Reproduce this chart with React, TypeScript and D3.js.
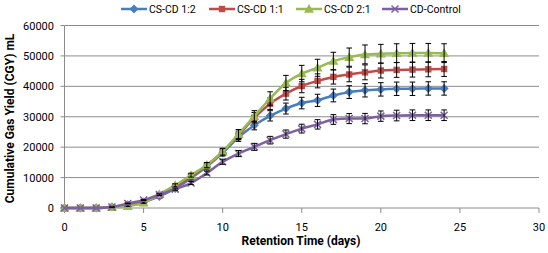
import React from "react";
import * as d3 from "d3";

const days = [0,1,2,3,4,5,6,7,8,9,10,11,12,13,14,15,16,17,18,19,20,21,22,23,24];

const cs12 = [0,0,0,300,1100,2000,3800,6400,9800,13600,18100,23200,27200,30300,32700,34500,35400,37000,38100,38700,39000,39200,39200,39300,39300];
const cs11 = [0,0,0,300,1000,2000,4200,7000,10400,14000,18500,23900,29700,34300,37600,40100,41800,43100,43900,44600,45200,45400,45500,45600,45700];
const cs21 = [0,0,0,250,600,1700,4500,7500,10800,14100,18500,24300,30200,36000,41100,44200,46100,48300,49600,50500,50700,50900,51000,51000,50900];
const ctrl = [0,0,0,300,1500,2600,4400,6200,8200,11500,15200,17900,20100,22300,24300,26100,27500,29100,29400,29400,30200,30400,30500,30500,30500];

const err12 = [0,0,0,50,100,150,250,400,550,750,1000,1300,1500,1700,1800,1900,2000,2100,2100,2200,2200,2200,2200,2200,2200];
const err11 = [0,0,0,50,100,150,250,450,650,850,1100,1400,1700,1900,2100,2200,2300,2350,2400,2450,2450,2450,2450,2450,2450];
const err21 = [0,0,0,50,100,150,300,450,650,850,1100,1500,1800,2200,2500,2700,2800,2900,3000,3100,3100,3100,3100,3100,3100];
const errC = [0,0,0,50,100,150,250,350,500,650,850,1000,1150,1250,1350,1450,1550,1600,1650,1700,1700,1750,1750,1750,1750];

const seriesNames = ["CS-CD 1:2", "CS-CD 1:1", "CS-CD 2:1", "CD-Control"];
const seriesColors = ["#4A7EBB", "#BE4B48", "#98B954", "#7D60A0"];
const seriesValues = [cs12, cs11, cs21, ctrl];
const seriesErrors = [err12, err11, err21, errC];
const markerKinds = ["diamond", "square", "triangle", "x"];

const xTicks = [0, 5, 10, 15, 20, 25, 30];
const yTicks = [0, 10000, 20000, 30000, 40000, 50000, 60000];

const W = 548, H = 253;
const left = 64.5, right = 539, top = 25.5, bottom = 208;
const font = "Roboto, 'Liberation Sans', sans-serif";

function Marker({ kind, x, y, color }: { kind: string; x: number; y: number; color: string }) {
  if (kind === "diamond") {
    const r = 4.5;
    return <path d={`M${x},${y - r}L${x + r},${y}L${x},${y + r}L${x - r},${y}Z`} fill={color} />;
  }
  if (kind === "square") {
    const r = 3.2;
    return <rect x={x - r} y={y - r} width={2 * r} height={2 * r} fill={color} />;
  }
  if (kind === "triangle") {
    const r = 5;
    return <path d={`M${x},${y - r}L${x + r},${y + r * 0.75}L${x - r},${y + r * 0.75}Z`} fill={color} />;
  }
  const r = 3.5;
  return (
    <path d={`M${x - r},${y - r}L${x + r},${y + r}M${x - r},${y + r}L${x + r},${y - r}`} stroke={color} strokeWidth={1.5} fill="none" />
  );
}

export default function App() {
  const x = d3.scaleLinear().domain([0, 30]).range([left, right]);
  const y = d3.scaleLinear().domain([0, 60000]).range([bottom, top]);
  const line = d3
    .line<number>()
    .x((_, i) => x(days[i]))
    .y((d) => y(d))
    .curve(d3.curveMonotoneX);

  const legendPos = [121, 209, 296, 382];

  return (
    <svg width={W} height={H} style={{ position: "absolute", left: 0, top: 0 }}>
      <rect width={W} height={H} fill="#fff" />
      {yTicks.map((t) => (
        <g key={t}>
          {t > 0 && <line x1={left} x2={right} y1={y(t)} y2={y(t)} stroke="#8C8C8C" strokeWidth={1} />}
          <line x1={left - 4} x2={left} y1={y(t)} y2={y(t)} stroke="#8C8C8C" />
          <text x={54} y={y(t) + 4} textAnchor="end" fontSize={11} fontFamily={font} fill="#000">
            {t}
          </text>
        </g>
      ))}
      <line x1={left} x2={left} y1={top} y2={bottom} stroke="#8C8C8C" />
      <line x1={left} x2={right} y1={bottom} y2={bottom} stroke="#8C8C8C" />
      {xTicks.map((t) => (
        <g key={t}>
          <line x1={x(t)} x2={x(t)} y1={bottom} y2={bottom + 5} stroke="#8C8C8C" />
          <text x={x(t)} y={231} textAnchor="middle" fontSize={11} fontFamily={font} fill="#000">
            {t}
          </text>
        </g>
      ))}
      {seriesValues.map((vals, si) => (
        <g key={si}>
          <path d={line(vals) || ""} fill="none" stroke={seriesColors[si]} strokeWidth={2.5} />
          {vals.map((v, i) => (
            <Marker key={i} kind={markerKinds[si]} x={x(days[i])} y={y(v)} color={seriesColors[si]} />
          ))}
          {vals.map((v, i) => {
            const e = seriesErrors[si][i];
            if (!e) return null;
            const cx = x(days[i]);
            const y1 = y(v + e), y2 = y(v - e);
            return (
              <path
                key={"e" + i}
                d={`M${cx},${y1}L${cx},${y2}M${cx - 2.8},${y1}L${cx + 2.8},${y1}M${cx - 2.8},${y2}L${cx + 2.8},${y2}`}
                stroke="#000"
                strokeWidth={1}
                fill="none"
              />
            );
          })}
        </g>
      ))}
      {seriesNames.map((n, si) => {
        const lx = legendPos[si];
        return (
          <g key={n}>
            <line x1={lx} x2={lx + 26} y1={9} y2={9} stroke={seriesColors[si]} strokeWidth={2.5} />
            <Marker kind={markerKinds[si]} x={lx + 13} y={9} color={seriesColors[si]} />
            <text x={lx + 28} y={12.5} fontSize={10.5} fontFamily={font} fill="#000">
              {n}
            </text>
          </g>
        );
      })}
      <text
        transform={`translate(13.5,118.5) rotate(-90)`}
        textAnchor="middle"
        fontSize={12}
        fontWeight="bold"
        fontFamily={font}
        fill="#000"
      >
        Cumulative Gas Yield (CGY) mL
      </text>
      <text x={301} y={245} textAnchor="middle" fontSize={12} fontWeight="bold" fontFamily={font} fill="#000">
        Retention Time (days)
      </text>
    </svg>
  );
}
